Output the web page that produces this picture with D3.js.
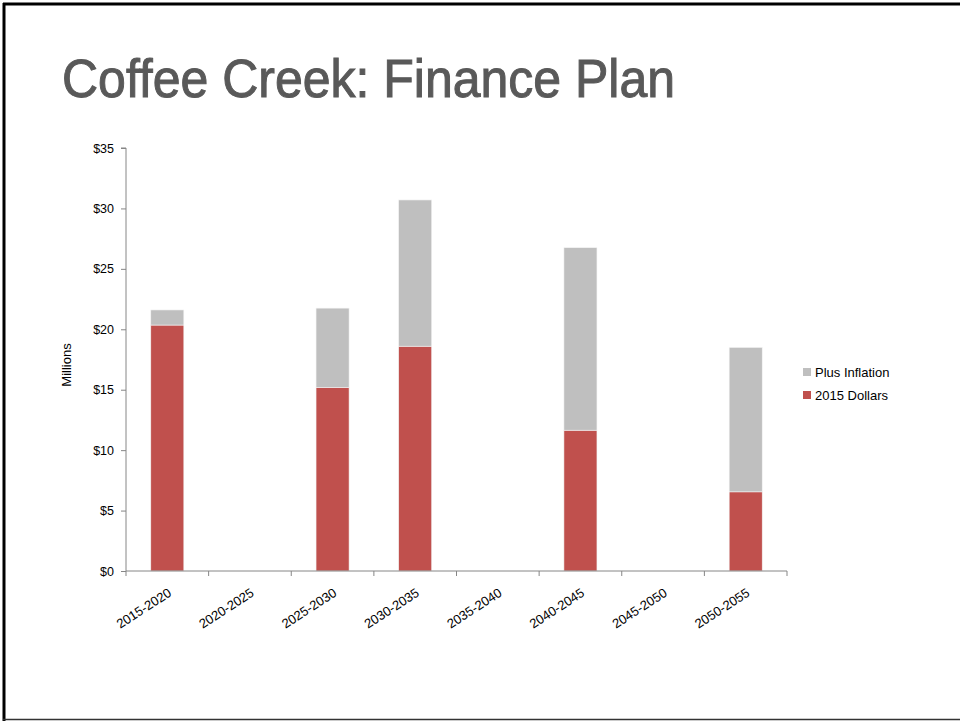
<!DOCTYPE html>
<html>
<head>
<meta charset="utf-8">
<script src="https://cdn.jsdelivr.net/npm/d3@7"></script>
<style>
  html, body { margin: 0; padding: 0; background: #fff; }
  svg { display: block; }
  text { font-family: "Liberation Sans", Arial, sans-serif; }
</style>
</head>
<body>
<svg id="chart" width="960" height="721"></svg>
<script>
// Periods and funding (millions of dollars)
const periods = ["2015-2020", "2020-2025", "2025-2030", "2030-2035", "2035-2040", "2040-2045", "2045-2050", "2050-2055"];
const dollars2015 = [20.35, 0, 15.2, 18.6, 0, 11.65, 0, 6.55];
const plusInflation = [1.25, 0, 6.55, 12.1, 0, 15.1, 0, 11.95];
const seriesNames = ["2015 Dollars", "Plus Inflation"];
const seriesColors = ["#C0504D", "#BFBFBF"];
const yTicks = [0, 5, 10, 15, 20, 25, 30, 35];

const svg = d3.select("#chart");

// slide frame
svg.append("line").attr("x1", 3).attr("x2", 960).attr("y1", 4).attr("y2", 4)
  .attr("stroke", "#000").attr("stroke-width", 3);
svg.append("line").attr("x1", 4).attr("x2", 4).attr("y1", 3).attr("y2", 721)
  .attr("stroke", "#000").attr("stroke-width", 3);
svg.append("line").attr("x1", 3).attr("x2", 960).attr("y1", 719.5).attr("y2", 719.5)
  .attr("stroke", "#333").attr("stroke-width", 1.5);

// title
svg.append("text")
  .attr("x", 62).attr("y", 97)
  .attr("font-size", 53)
  .attr("fill", "#595959")
  .attr("stroke", "#595959")
  .attr("stroke-width", 1)
  .attr("textLength", 613)
  .attr("lengthAdjust", "spacingAndGlyphs")
  .text("Coffee Creek: Finance Plan");

const margin = { left: 126, right: 787, top: 148, bottom: 571 };

const x = d3.scaleBand().domain(periods).range([margin.left, margin.right]).paddingInner(0.6).paddingOuter(0.3);
const xEdge = d3.scaleLinear().domain([0, periods.length]).range([margin.left, margin.right]);
const y = d3.scaleLinear().domain([0, 35]).range([margin.bottom, margin.top]);

const rows = periods.map((p, i) => ({ period: p, "2015 Dollars": dollars2015[i], "Plus Inflation": plusInflation[i] }));
const stacked = d3.stack().keys(seriesNames)(rows);

// bars
const g = svg.append("g");
stacked.forEach((layer, li) => {
  g.selectAll(null)
    .data(layer.filter(d => d[1] - d[0] > 0))
    .join("rect")
    .attr("x", d => x(d.data.period))
    .attr("width", x.bandwidth())
    .attr("y", d => y(d[1]))
    .attr("height", d => y(d[0]) - y(d[1]))
    .attr("fill", seriesColors[li])
    .attr("stroke", "#f4f4f4")
    .attr("stroke-width", 0.6);
});

const axisColor = "#868686";

// y axis
const yAxis = svg.append("g")
  .attr("transform", `translate(${margin.left},0)`)
  .call(d3.axisLeft(y).tickValues(yTicks).tickSize(5).tickPadding(7).tickFormat(d => "$" + d));
yAxis.select(".domain").attr("stroke", axisColor).attr("d", `M-5,${margin.top}H0V${margin.bottom}`);
yAxis.selectAll(".tick line").attr("stroke", axisColor);
yAxis.selectAll(".tick text").attr("font-size", 12.5).attr("fill", "#000")
  .attr("font-family", "Liberation Sans, Arial, sans-serif");

// x axis with ticks on category boundaries
const xAxisG = svg.append("g").attr("transform", `translate(0,${margin.bottom})`);
xAxisG.append("line").attr("x1", margin.left).attr("x2", margin.right)
  .attr("stroke", axisColor);
xAxisG.selectAll(".edge")
  .data(d3.range(periods.length + 1))
  .join("line")
  .attr("x1", d => xEdge(d)).attr("x2", d => xEdge(d))
  .attr("y1", 0).attr("y2", 5)
  .attr("stroke", axisColor);
xAxisG.selectAll(".lbl")
  .data(periods)
  .join("text")
  .attr("text-anchor", "end")
  .attr("font-size", 13)
  .attr("fill", "#000")
  .attr("transform", d => `translate(${x(d) + x.bandwidth() / 2 + 5},${24}) rotate(-33)`)
  .text(d => d);

// y axis title
svg.append("text")
  .attr("transform", "translate(71,365) rotate(-90)")
  .attr("text-anchor", "middle")
  .attr("font-size", 13)
  .attr("fill", "#000")
  .text("Millions");

// legend
const legendItems = [
  { name: "Plus Inflation", color: seriesColors[1] },
  { name: "2015 Dollars", color: seriesColors[0] }
];
const lg = svg.append("g").attr("transform", "translate(803,372)");
legendItems.forEach((it, i) => {
  lg.append("rect").attr("x", 0).attr("y", i * 23 - 4).attr("width", 8).attr("height", 8).attr("fill", it.color);
  lg.append("text").attr("x", 12).attr("y", i * 23 + 5).attr("font-size", 13).attr("fill", "#000").text(it.name);
});
</script>
</body>
</html>
